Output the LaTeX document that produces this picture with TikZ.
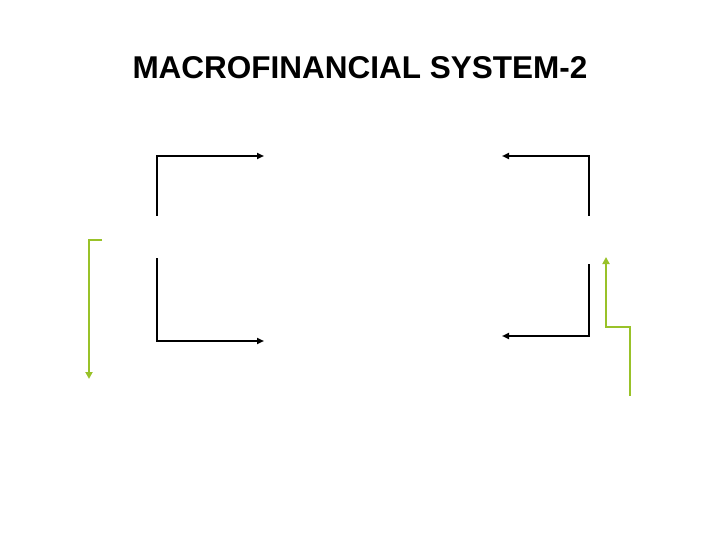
\documentclass[tikz,border=0pt]{standalone}
\usepackage{fontspec}
\setmainfont{Liberation Sans}
\usetikzlibrary{arrows.meta}
\definecolor{LinkClr}{rgb}{0.6,0.76,0.16}

\begin{document}
\begin{tikzpicture}[x=1pt,y=-1pt,
  flow/.style={line width=1.8pt,color=black,-{Triangle[length=7pt,width=6pt]}},
  loop/.style={line width=2.4pt,color=LinkClr,-{Triangle[length=7pt,width=7pt]}}]
\useasboundingbox (0,0) rectangle (720,540);

\node[font=\bfseries\fontsize{31.5}{36}\selectfont] (title) at (360,68) {MACROFINANCIAL SYSTEM-2};

% black brackets
\coordinate (A1) at (157,216); \coordinate (A2) at (157,156); \coordinate (A3) at (264,156);
\coordinate (B1) at (157,258); \coordinate (B2) at (157,341); \coordinate (B3) at (264,341);
\coordinate (C1) at (589,216); \coordinate (C2) at (589,156); \coordinate (C3) at (502,156);
\coordinate (D1) at (589,264); \coordinate (D2) at (589,336); \coordinate (D3) at (502,336);

\draw[flow] (A1) -- (A2) -- (A3);
\draw[flow] (B1) -- (B2) -- (B3);
\draw[flow] (C1) -- (C2) -- (C3);
\draw[flow] (D1) -- (D2) -- (D3);

% green links
\coordinate (E1) at (102,240); \coordinate (E2) at (89,240); \coordinate (E3) at (89,379);
\coordinate (F1) at (630,396); \coordinate (F2) at (630,327); \coordinate (F3) at (606,327); \coordinate (F4) at (606,257);

\draw[loop] (E1) -- (E2) -- (E3);
\draw[loop] (F1) -- (F2) -- (F3) -- (F4);

\end{tikzpicture}
\end{document}
